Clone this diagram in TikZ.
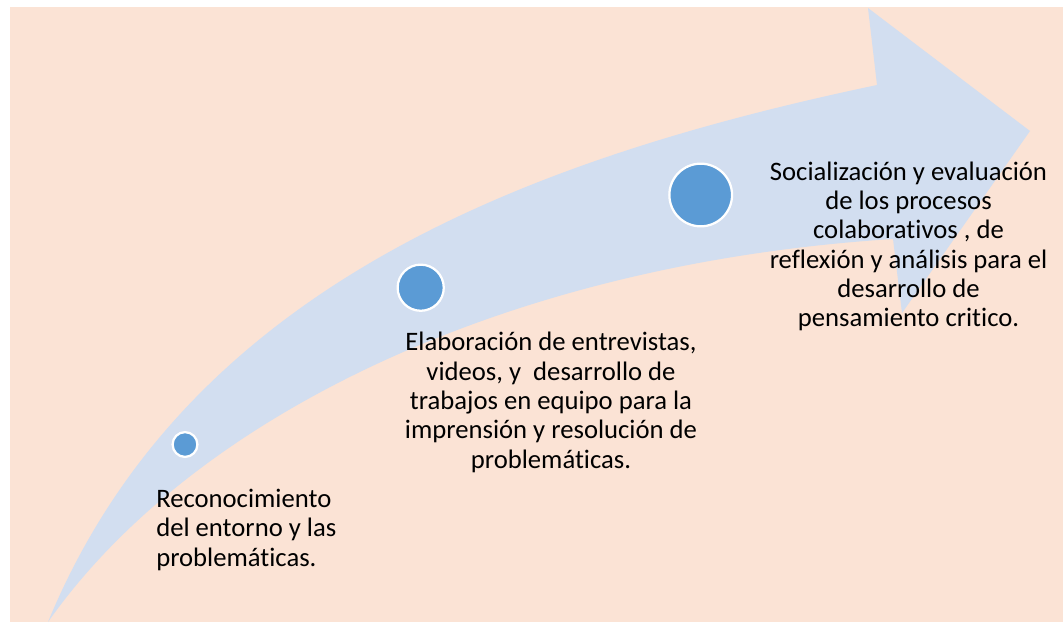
\documentclass[tikz,border=0pt]{standalone}
\usepackage{fontspec}
\setmainfont[Ligatures=CommonOff]{Carlito}
\definecolor{bgpeach}{HTML}{FBE3D5}
\definecolor{arrowblue}{HTML}{D2DEF0}
\definecolor{dotblue}{HTML}{5B9BD5}
\tikzset{
  dotnode/.style={circle,fill=dotblue,draw=white,line width=1.7pt,inner sep=0pt},
  label text/.style={inner sep=0pt,text=black,font=\fontsize{20}{22}\selectfont}
}
\begin{document}
\begin{tikzpicture}[x=0.75pt,y=-0.75pt]
\useasboundingbox (0,0) rectangle (1063,622);
\fill[white] (0,0) rectangle (1063,622);
\fill[bgpeach] (10,7) rectangle (1063,622);
\fill[arrowblue] (48,622) .. controls (185,290) and (520,160) .. (877,85)
  -- (868,8) -- (1030,131) -- (902,313) -- (893,239)
  .. controls (500,264) and (190,420) .. (48,622) -- cycle;
\node[dotnode,minimum size=18.6pt] (d1) at (185,444.5) {};
\node[dotnode,minimum size=34.6pt] (d2) at (420.7,287.7) {};
\node[dotnode,minimum size=47pt] (d3) at (700.7,195) {};
\node[label text,align=left,anchor=north west] (t1) at (156,489) {Reconocimiento\\del entorno y las\\problemáticas.};
\node[label text,align=center,anchor=north] (t2) at (551,332) {Elaboración de entrevistas,\\videos, y\ \ desarrollo de\\trabajos en equipo para la\\imprensión y resolución de\\problemáticas.};
\node[label text,align=center,anchor=north] (t3) at (908.5,161.5) {Socialización y evaluación\\de los procesos\\colaborativos , de\\reflexión y análisis para el\\desarrollo de\\pensamiento critico.};
\end{tikzpicture}
\end{document}
